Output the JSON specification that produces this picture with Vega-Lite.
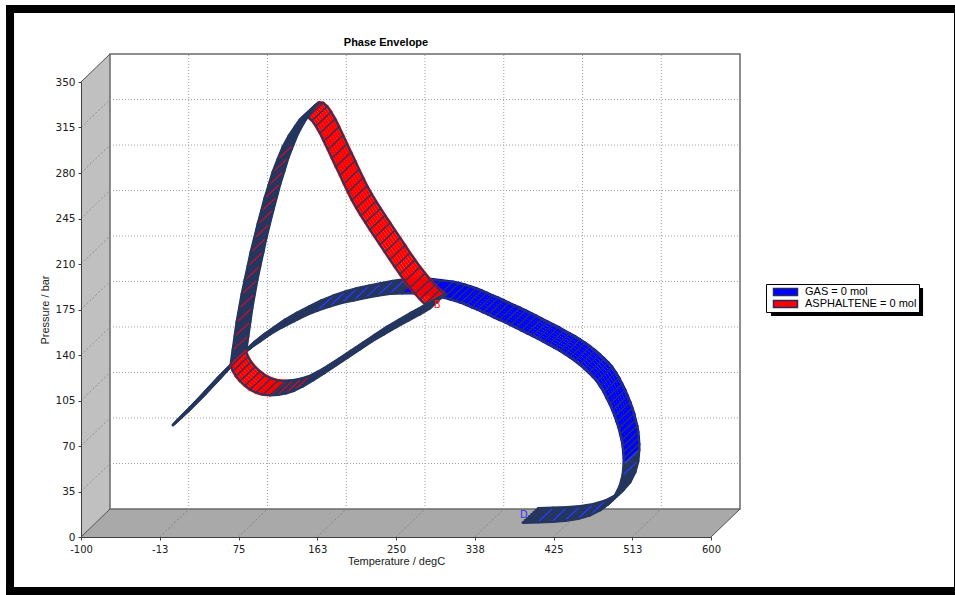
{
"$schema": "https://vega.github.io/schema/vega-lite/v6.json",
"width": 630, "height": 455,
"autosize": {"type": "none"},
"padding": {"left": 81, "top": 82, "right": 244, "bottom": 58},
"background": "white",
"title": {"text": "Phase Envelope", "font": "Liberation Sans", "fontSize": 11, "fontWeight": "bold", "color": "#000000", "offset": -43, "dx": -10},
"config": {"view": {"stroke": null}, "axis": {"grid": false, "zindex": 1}},
"datasets": {
"one": [{}],
"floor": [{"T": -100, "lo": 0, "hi": 0}, {"T": -67.78, "lo": 0, "hi": 21.54}, {"T": 600, "lo": 0, "hi": 21.54}, {"T": 632.22, "lo": 21.54, "hi": 21.54}],
"leftwall": [{"T": -100, "lo": 0, "hi": 350}, {"T": -67.78, "lo": 21.54, "hi": 371.54}],
"xt": [{"T": -12.5}, {"T": 75}, {"T": 162.5}, {"T": 250}, {"T": 337.5}, {"T": 425}, {"T": 512.5}],
"yt": [{"P": 35}, {"P": 70}, {"P": 105}, {"P": 140}, {"P": 175}, {"P": 210}, {"P": 245}, {"P": 280}, {"P": 315}],
"edges": [{"T": -100, "P": 350}, {"T": -100, "P": 0}, {"T": 600, "P": 0}],
"leg": [{"s": "GAS = 0 mol"}, {"s": "ASPHALTENE = 0 mol"}],
"gas": [
{"i":1,"T":2.2,"P":86.2},{"i":2,"T":21.1,"P":99.2},{"i":3,"T":37.8,"P":111.5},{"i":4,"T":52.2,"P":122.3},{"i":5,"T":65.6,"P":131.5},{"i":6,"T":76.7,"P":139.2},{"i":7,"T":87.8,"P":145.4},{"i":8,"T":98.9,"P":150.8},{"i":9,"T":110,"P":156.2},{"i":10,"T":123.3,"P":161.5},{"i":11,"T":136.7,"P":166.2},{"i":12,"T":150,"P":170.8},{"i":13,"T":163.3,"P":174.6},{"i":14,"T":176.7,"P":177.7},{"i":15,"T":190,"P":180.4},{"i":16,"T":203.3,"P":182.3},{"i":17,"T":216.7,"P":184.3},{"i":18,"T":230,"P":186.0},{"i":19,"T":243.3,"P":187.3},{"i":20,"T":256.7,"P":187.7},{"i":21,"T":270,"P":187.7},{"i":22,"T":283.3,"P":186.5},{"i":23,"T":296.7,"P":185.4},{"i":24,"T":303.3,"P":184.4},{"i":25,"T":310,"P":183.1},{"i":26,"T":316.1,"P":181.8},{"i":27,"T":322.2,"P":180.4},{"i":28,"T":328.3,"P":178.7},{"i":29,"T":334.4,"P":176.9},{"i":30,"T":340.6,"P":175.0},{"i":31,"T":346.7,"P":173.1},{"i":32,"T":352.8,"P":171.2},{"i":33,"T":358.9,"P":169.2},{"i":34,"T":365,"P":167.3},{"i":35,"T":371.1,"P":165.4},{"i":36,"T":377.2,"P":163.3},{"i":37,"T":383.3,"P":161.2},{"i":38,"T":389.4,"P":159.1},{"i":39,"T":395.6,"P":156.9},{"i":40,"T":401.7,"P":154.8},{"i":41,"T":407.8,"P":152.7},{"i":42,"T":413.9,"P":150.5},{"i":43,"T":420,"P":148.1},{"i":44,"T":426.1,"P":145.8},{"i":45,"T":432.2,"P":143.5},{"i":46,"T":437.8,"P":141.0},{"i":47,"T":443.3,"P":138.5},{"i":48,"T":448.9,"P":135.7},{"i":49,"T":454.4,"P":132.7},{"i":50,"T":459.4,"P":129.7},{"i":51,"T":464.4,"P":126.5},{"i":52,"T":468.9,"P":123.4},{"i":53,"T":473.3,"P":120.0},{"i":54,"T":477.2,"P":115.9},{"i":55,"T":481.1,"P":111.5},{"i":56,"T":484.4,"P":106.9},{"i":57,"T":487.8,"P":102.3},{"i":58,"T":490.6,"P":97.7},{"i":59,"T":493.3,"P":93.1},{"i":60,"T":495.6,"P":88.5},{"i":61,"T":497.8,"P":83.8},{"i":62,"T":499.4,"P":79.2},{"i":63,"T":501.1,"P":74.6},{"i":64,"T":502.2,"P":70.0},{"i":65,"T":502.8,"P":65.4},{"i":66,"T":503.3,"P":60.8},{"i":67,"T":503.3,"P":56.2},{"i":68,"T":502.2,"P":47.7},{"i":69,"T":498.9,"P":39.2},{"i":70,"T":493.3,"P":31.5},{"i":71,"T":485.6,"P":25.4},{"i":72,"T":476.7,"P":20.8},{"i":73,"T":465.6,"P":16.9},{"i":74,"T":452.2,"P":14.2},{"i":75,"T":437.8,"P":12.7},{"i":76,"T":423.3,"P":11.9},{"i":77,"T":407.8,"P":11.5},{"i":78,"T":391.1,"P":11.2}
],
"asph": [
{"i":1,"T":66.7,"P":133.1},{"i":2,"T":68.9,"P":143.8},{"i":3,"T":71.1,"P":154.6},{"i":4,"T":73.3,"P":165.4},{"i":5,"T":76.1,"P":176.2},{"i":6,"T":78.9,"P":186.9},{"i":7,"T":82.2,"P":197.7},{"i":8,"T":85.6,"P":208.5},{"i":9,"T":88.9,"P":219.2},{"i":10,"T":92.8,"P":230.0},{"i":11,"T":96.7,"P":240.8},{"i":12,"T":100.6,"P":250.8},{"i":13,"T":104.4,"P":260.8},{"i":14,"T":108.9,"P":270.8},{"i":15,"T":113.3,"P":280.8},{"i":16,"T":118.9,"P":290.8},{"i":17,"T":124.4,"P":300.0},{"i":18,"T":131.1,"P":308.5},{"i":19,"T":137.8,"P":315.4},{"i":20,"T":143.3,"P":320.8},{"i":21,"T":147.8,"P":323.5},{"i":22,"T":152.2,"P":323.1},{"i":23,"T":156.7,"P":320.4},{"i":24,"T":161.1,"P":316.2},{"i":25,"T":165.6,"P":310.8},{"i":26,"T":170,"P":304.6},{"i":27,"T":174.4,"P":298.1},{"i":28,"T":178.9,"P":291.5},{"i":29,"T":183.3,"P":285.0},{"i":30,"T":187.8,"P":278.5},{"i":31,"T":192.2,"P":271.9},{"i":32,"T":196.7,"P":265.4},{"i":33,"T":201.1,"P":259.2},{"i":34,"T":206.1,"P":253.1},{"i":35,"T":211.1,"P":247.3},{"i":36,"T":216.1,"P":241.9},{"i":37,"T":221.1,"P":236.5},{"i":38,"T":226.7,"P":230.8},{"i":39,"T":232.2,"P":225.0},{"i":40,"T":237.8,"P":219.2},{"i":41,"T":243.3,"P":213.5},{"i":42,"T":248.9,"P":207.7},{"i":43,"T":254.4,"P":202.3},{"i":44,"T":260,"P":196.9},{"i":45,"T":265.6,"P":191.9},{"i":46,"T":271.1,"P":187.3},{"i":47,"T":276.7,"P":183.1},{"i":48,"T":282.2,"P":179.2},{"i":49,"T":287.8,"P":176.2},{"i":50,"T":276.7,"P":171.5},{"i":51,"T":263.3,"P":166.5},{"i":52,"T":250,"P":161.5},{"i":53,"T":236.7,"P":156.2},{"i":54,"T":223.3,"P":150.8},{"i":55,"T":210,"P":144.6},{"i":56,"T":196.7,"P":138.5},{"i":57,"T":183.3,"P":132.3},{"i":58,"T":170,"P":126.2},{"i":59,"T":157.8,"P":120.8},{"i":60,"T":146.7,"P":116.2},{"i":61,"T":136.7,"P":112.7},{"i":62,"T":127.8,"P":110.8},{"i":63,"T":118.9,"P":109.6},{"i":64,"T":110,"P":109.2},{"i":65,"T":102.2,"P":109.6},{"i":66,"T":94.4,"P":111.2},{"i":67,"T":87.8,"P":113.5},{"i":68,"T":82.2,"P":116.5},{"i":69,"T":76.7,"P":120.0},{"i":70,"T":72.2,"P":123.8},{"i":71,"T":68.9,"P":127.7},{"i":72,"T":66.7,"P":131.5}
]
},
"layer": [
{"data": {"name": "floor"}, "mark": {"type": "area", "fill": "#a9a9a9"},
 "encoding": {
  "x": {"field": "T", "type": "quantitative", "scale": {"domain": [-100, 600], "nice": false, "zero": false},
        "axis": {"disable": false, "orient": "bottom", "title": "Temperature / degC", "values": [-100, -12.5, 75, 162.5, 250, 337.5, 425, 512.5, 600], "labelExpr": "datum.value < 0 ? '-' + format(-datum.value, '.0f') : format(datum.value, '.0f')", "labelFont": "DejaVu Sans", "labelFontSize": 10, "labelColor": "#202020", "labelPadding": 4, "tickSize": 3, "tickColor": "#404040", "domainColor": "#404040", "titleFont": "Liberation Sans", "titleFontSize": 11, "titleFontWeight": "normal", "titleColor": "#202020", "titlePadding": 1, "labelFlush": false, "labelOverlap": false, "zindex": 1}},
  "y": {"field": "hi", "type": "quantitative", "scale": {"domain": [0, 350], "nice": false, "zero": false},
        "axis": {"disable": false, "orient": "left", "title": "Pressure / bar", "values": [0, 35, 70, 105, 140, 175, 210, 245, 280, 315, 350], "labelFont": "DejaVu Sans", "labelFontSize": 10.5, "labelColor": "#202020", "labelPadding": 3, "tickSize": 3, "tickColor": "#404040", "domainColor": "#404040", "titleFont": "Liberation Sans", "titleFontSize": 11, "titleFontWeight": "normal", "titleColor": "#202020", "titlePadding": 4, "labelOverlap": false, "zindex": 1}},
  "y2": {"field": "lo"}}},
{"data": {"name": "one"}, "mark": {"type": "rect", "fill": "#000000"}, "encoding": {"x": {"datum": -183.3, "type": "quantitative"}, "x2": {"datum": 871.1}, "y": {"datum": 409.2, "type": "quantitative"}, "y2": {"datum": 403.1}}},
{"data": {"name": "one"}, "mark": {"type": "rect", "fill": "#000000"}, "encoding": {"x": {"datum": -183.3, "type": "quantitative"}, "x2": {"datum": -174.4}, "y": {"datum": 409.2, "type": "quantitative"}, "y2": {"datum": -44.6}}},
{"data": {"name": "one"}, "mark": {"type": "rect", "fill": "#000000"}, "encoding": {"x": {"datum": -183.3, "type": "quantitative"}, "x2": {"datum": 871.1}, "y": {"datum": -38.5, "type": "quantitative"}, "y2": {"datum": -44.6}}},
{"data": {"name": "one"}, "mark": {"type": "rect", "fill": "#000000"}, "encoding": {"x": {"datum": 870, "type": "quantitative"}, "x2": {"datum": 871.1}, "y": {"datum": 409.2, "type": "quantitative"}, "y2": {"datum": -44.6}}},
{"data": {"name": "leftwall"}, "mark": {"type": "area", "fill": "#c0c0c0"},
 "encoding": {"x": {"field": "T", "type": "quantitative"}, "y": {"field": "hi", "type": "quantitative"}, "y2": {"field": "lo"}}},
{"data": {"name": "one"}, "mark": {"type": "rect", "fill": "#ffffff", "stroke": "#6a6a6a", "strokeWidth": 1.5, "xOffset": 29, "x2Offset": 29, "yOffset": -28, "y2Offset": -28},
 "encoding": {"x": {"datum": -100, "type": "quantitative"}, "x2": {"datum": 600}, "y": {"datum": 350, "type": "quantitative"}, "y2": {"datum": 0}}},
{"data": {"name": "xt"}, "mark": {"type": "rule", "color": "#a0a0a0", "strokeDash": [1, 2], "xOffset": 29, "yOffset": -28, "y2Offset": -28},
 "encoding": {"x": {"field": "T", "type": "quantitative"}, "y": {"datum": 0, "type": "quantitative"}, "y2": {"datum": 350}}},
{"data": {"name": "yt"}, "mark": {"type": "rule", "color": "#a0a0a0", "strokeDash": [1, 2], "xOffset": 29, "x2Offset": 29, "yOffset": -28},
 "encoding": {"y": {"field": "P", "type": "quantitative"}, "x": {"datum": -100, "type": "quantitative"}, "x2": {"datum": 600}}},
{"data": {"name": "xt"}, "mark": {"type": "rule", "color": "#858585", "strokeDash": [2, 2], "x2Offset": 29, "y2Offset": -28},
 "encoding": {"x": {"field": "T", "type": "quantitative"}, "x2": {"field": "T"}, "y": {"datum": 0, "type": "quantitative"}, "y2": {"datum": 0}}},
{"data": {"name": "yt"}, "mark": {"type": "rule", "color": "#909090", "strokeDash": [2, 2], "x2Offset": 29, "y2Offset": -28},
 "encoding": {"y": {"field": "P", "type": "quantitative"}, "y2": {"field": "P"}, "x": {"datum": -100, "type": "quantitative"}, "x2": {"datum": -100}}},
{"data": {"name": "edges"}, "mark": {"type": "rule", "color": "#505050", "x2Offset": 29, "y2Offset": -28},
 "encoding": {"x": {"field": "T", "type": "quantitative"}, "x2": {"field": "T"}, "y": {"field": "P", "type": "quantitative"}, "y2": {"field": "P"}}},
{"data": {"name": "gas"},
 "transform": [{"window": [{"op": "lead", "field": "T", "as": "nT"}, {"op": "lead", "field": "P", "as": "nP"}], "sort": [{"field": "i", "order": "ascending"}]}],
 "layer": [
  {"transform": [{"filter": "isValid(datum.nT)"}],
   "encoding": {"x": {"field": "T", "type": "quantitative"}, "y": {"field": "P", "type": "quantitative"}, "x2": {"field": "nT"}, "y2": {"field": "nP"},
    "color": {"condition": {"test": "(datum.nT-datum.T)*(datum.nP-datum.P) > 0", "value": "#25365f"}, "value": "#0000ff"}},
   "layer": [
    {"mark": {"type": "rule", "strokeWidth": 3, "strokeCap": "round"}},
    {"mark": {"type": "rule", "strokeWidth": 3, "strokeCap": "round", "xOffset": 2.14, "x2Offset": 2.14, "yOffset": -2, "y2Offset": -2}},
    {"mark": {"type": "rule", "strokeWidth": 3, "strokeCap": "round", "xOffset": 4.29, "x2Offset": 4.29, "yOffset": -4, "y2Offset": -4}},
    {"mark": {"type": "rule", "strokeWidth": 3, "strokeCap": "round", "xOffset": 6.43, "x2Offset": 6.43, "yOffset": -6, "y2Offset": -6}},
    {"mark": {"type": "rule", "strokeWidth": 3, "strokeCap": "round", "xOffset": 8.57, "x2Offset": 8.57, "yOffset": -8, "y2Offset": -8}},
    {"mark": {"type": "rule", "strokeWidth": 3, "strokeCap": "round", "xOffset": 10.71, "x2Offset": 10.71, "yOffset": -10, "y2Offset": -10}},
    {"mark": {"type": "rule", "strokeWidth": 3, "strokeCap": "round", "xOffset": 12.86, "x2Offset": 12.86, "yOffset": -12, "y2Offset": -12}},
    {"mark": {"type": "rule", "strokeWidth": 3, "strokeCap": "round", "xOffset": 15, "x2Offset": 15, "yOffset": -14, "y2Offset": -14}}
   ]},
  {"mark": {"type": "rule", "strokeWidth": 1.2, "x2Offset": 15, "y2Offset": -14},
   "encoding": {"x": {"field": "T", "type": "quantitative"}, "x2": {"field": "T"}, "y": {"field": "P", "type": "quantitative"}, "y2": {"field": "P"},
    "color": {"condition": {"test": "isValid(datum.nT) && (datum.nT-datum.T)*(datum.nP-datum.P) > 0 && abs(-12.6*(datum.nT-datum.T) + 19.5*(datum.nP-datum.P)) / sqrt(pow(0.9*(datum.nT-datum.T),2) + pow(1.3*(datum.nP-datum.P),2)) > 8", "value": "#2a3cff"}, "value": "#25365f"}}},
  {"encoding": {"x": {"field": "T", "type": "quantitative"}, "y": {"field": "P", "type": "quantitative"}, "order": {"field": "i"}},
   "layer": [
    {"mark": {"type": "line", "color": "#25365f", "strokeWidth": 1.8}},
    {"mark": {"type": "line", "color": "#25365f", "strokeWidth": 1.8, "xOffset": 15, "yOffset": -14}}
   ]}
 ]},
{"data": {"name": "asph"},
 "transform": [{"window": [{"op": "lead", "field": "T", "as": "nT"}, {"op": "lead", "field": "P", "as": "nP"}], "sort": [{"field": "i", "order": "ascending"}]}],
 "layer": [
  {"transform": [{"filter": "isValid(datum.nT)"}],
   "encoding": {"x": {"field": "T", "type": "quantitative"}, "y": {"field": "P", "type": "quantitative"}, "x2": {"field": "nT"}, "y2": {"field": "nP"},
    "color": {"condition": {"test": "(datum.nT-datum.T)*(datum.nP-datum.P) > 0", "value": "#25365f"}, "value": "#ff0000"}},
   "layer": [
    {"mark": {"type": "rule", "strokeWidth": 3, "strokeCap": "round"}},
    {"mark": {"type": "rule", "strokeWidth": 3, "strokeCap": "round", "xOffset": 2.14, "x2Offset": 2.14, "yOffset": -2, "y2Offset": -2}},
    {"mark": {"type": "rule", "strokeWidth": 3, "strokeCap": "round", "xOffset": 4.29, "x2Offset": 4.29, "yOffset": -4, "y2Offset": -4}},
    {"mark": {"type": "rule", "strokeWidth": 3, "strokeCap": "round", "xOffset": 6.43, "x2Offset": 6.43, "yOffset": -6, "y2Offset": -6}},
    {"mark": {"type": "rule", "strokeWidth": 3, "strokeCap": "round", "xOffset": 8.57, "x2Offset": 8.57, "yOffset": -8, "y2Offset": -8}},
    {"mark": {"type": "rule", "strokeWidth": 3, "strokeCap": "round", "xOffset": 10.71, "x2Offset": 10.71, "yOffset": -10, "y2Offset": -10}},
    {"mark": {"type": "rule", "strokeWidth": 3, "strokeCap": "round", "xOffset": 12.86, "x2Offset": 12.86, "yOffset": -12, "y2Offset": -12}},
    {"mark": {"type": "rule", "strokeWidth": 3, "strokeCap": "round", "xOffset": 15, "x2Offset": 15, "yOffset": -14, "y2Offset": -14}}
   ]},
  {"mark": {"type": "rule", "strokeWidth": 1.2, "x2Offset": 15, "y2Offset": -14},
   "encoding": {"x": {"field": "T", "type": "quantitative"}, "x2": {"field": "T"}, "y": {"field": "P", "type": "quantitative"}, "y2": {"field": "P"},
    "color": {"condition": {"test": "isValid(datum.nT) && (datum.nT-datum.T)*(datum.nP-datum.P) > 0 && abs(-12.6*(datum.nT-datum.T) + 19.5*(datum.nP-datum.P)) / sqrt(pow(0.9*(datum.nT-datum.T),2) + pow(1.3*(datum.nP-datum.P),2)) > 8", "value": "#c8102e"}, "value": "#25365f"}}},
  {"encoding": {"x": {"field": "T", "type": "quantitative"}, "y": {"field": "P", "type": "quantitative"}, "order": {"field": "i"}},
   "layer": [
    {"mark": {"type": "line", "color": "#25365f", "strokeWidth": 1.8}},
    {"mark": {"type": "line", "color": "#25365f", "strokeWidth": 1.8, "xOffset": 15, "yOffset": -14}}
   ]}
 ]},
{"data": {"values": [{"T": 387.8, "P": 16.9, "t": "D"}]}, "mark": {"type": "text", "color": "#3030ff", "font": "DejaVu Sans", "fontSize": 10, "align": "left", "baseline": "middle"},
 "encoding": {"x": {"field": "T", "type": "quantitative"}, "y": {"field": "P", "type": "quantitative"}, "text": {"field": "t"}}},
{"data": {"values": [{"T": 295.9, "P": 178.5, "t": "B"}]}, "mark": {"type": "text", "color": "#ff2020", "font": "DejaVu Sans", "fontSize": 10, "align": "center", "baseline": "middle"},
 "encoding": {"x": {"field": "T", "type": "quantitative"}, "y": {"field": "P", "type": "quantitative"}, "text": {"field": "t"}}},
{"data": {"name": "one"}, "mark": {"type": "rect", "fill": "#000000"}, "encoding": {"x": {"datum": 666.7, "type": "quantitative"}, "x2": {"datum": 835.6}, "y": {"datum": 191.5, "type": "quantitative"}, "y2": {"datum": 170.0}}},
{"data": {"name": "leg"}, "transform": [{"filter": "false"}], "mark": {"type": "point", "shape": "square", "filled": true, "opacity": 1},
 "encoding": {"fill": {"field": "s", "type": "nominal", "scale": {"domain": ["GAS = 0 mol", "ASPHALTENE = 0 mol"], "range": ["#0000ff", "#ff0000"]},
   "legend": {"orient": "none", "legendX": 685, "legendY": 202, "title": null, "symbolType": "M-4,-1.2H4V1.2H-4Z", "symbolSize": 36, "symbolOffset": 12, "symbolStrokeColor": "#1f2d5c", "symbolStrokeWidth": 1.5, "symbolOpacity": 1, "labelFont": "Liberation Sans", "labelFontSize": 11, "labelColor": "#000000", "labelOffset": 14, "clipHeight": 12, "rowPadding": 0, "padding": 2, "strokeColor": "#000000", "fillColor": "#ffffff", "cornerRadius": 0}}}}
]
}
